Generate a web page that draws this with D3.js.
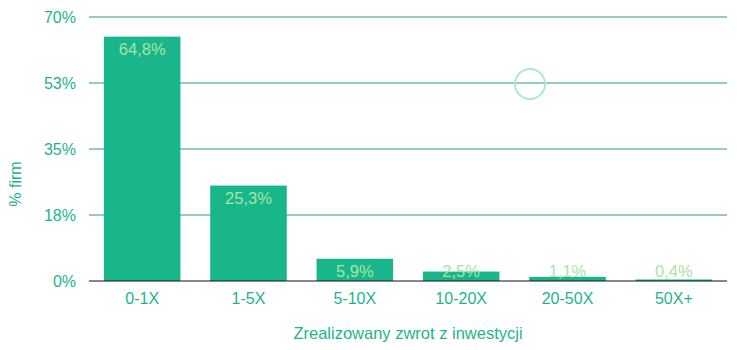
<!DOCTYPE html>
<html>
<head>
<meta charset="utf-8">
<script src="https://cdn.jsdelivr.net/npm/d3@7"></script>
<style>
  body { margin: 0; background: #fff; }
  text { font-family: "Liberation Sans", Arial, sans-serif; }
</style>
</head>
<body>
<div id="chart"></div>
<script>
// data
const categories = ["0-1X", "1-5X", "5-10X", "10-20X", "20-50X", "50X+"];
const values = [64.8, 25.3, 5.9, 2.5, 1.1, 0.4];
const valueLabels = ["64,8%", "25,3%", "5,9%", "2,5%", "1,1%", "0,4%"];
const yTicks = [0, 17.5, 35, 52.5, 70];
const yTickLabels = ["0%", "18%", "35%", "53%", "70%"];

const W = 737, H = 350;
const margin = {top: 17, right: 10, bottom: 69, left: 89};
const width = W - margin.left - margin.right;
const height = H - margin.top - margin.bottom;

const svg = d3.select("#chart").append("svg")
    .attr("width", W)
    .attr("height", H);

const g = svg.append("g")
    .attr("transform", `translate(${margin.left},${margin.top})`);

const x = d3.scaleBand()
    .domain(categories)
    .range([0, width])
    .paddingInner(0.28)
    .paddingOuter(0.14);

const y = d3.scaleLinear()
    .domain([0, 70])
    .range([height, 0]);

const teal = "#19b68c";
const textTeal = "#1db48c";

// gridlines
g.selectAll(".grid")
    .data(yTicks.slice(1))
    .enter()
    .append("line")
    .attr("class", "grid")
    .attr("x1", 0)
    .attr("x2", width)
    .attr("y1", d => y(d))
    .attr("y2", d => y(d))
    .style("stroke", "#2a9b7c")
    .style("stroke-width", 1);

// y tick labels
g.selectAll(".ytick")
    .data(yTicks)
    .enter()
    .append("text")
    .attr("class", "ytick")
    .attr("x", -13)
    .attr("y", d => y(d))
    .style("dominant-baseline", "central")
    .style("text-anchor", "end")
    .style("font-size", "16px")
    .style("fill", textTeal)
    .text((d, i) => yTickLabels[i]);

// bars
g.selectAll(".bar")
    .data(values)
    .enter()
    .append("rect")
    .attr("class", "bar")
    .attr("x", (d, i) => x(categories[i]))
    .attr("y", d => y(d))
    .attr("width", x.bandwidth())
    .attr("height", d => height - y(d))
    .style("fill", teal);

// baseline
g.append("line")
    .attr("x1", 0)
    .attr("x2", width)
    .attr("y1", height)
    .attr("y2", height)
    .style("stroke", "#111")
    .style("stroke-width", 1);

// value labels
g.selectAll(".val")
    .data(values)
    .enter()
    .append("text")
    .attr("class", "val")
    .attr("x", (d, i) => x(categories[i]) + x.bandwidth() / 2)
    .attr("y", d => Math.min(y(d) + 12, height - 10))
    .style("dominant-baseline", "central")
    .style("text-anchor", "middle")
    .style("font-size", "16.5px")
    .style("fill", "#a6e6a0")
    .text((d, i) => valueLabels[i]);

// x labels
g.selectAll(".xtick")
    .data(categories)
    .enter()
    .append("text")
    .attr("class", "xtick")
    .attr("x", d => x(d) + x.bandwidth() / 2)
    .attr("y", height + 17)
    .style("dominant-baseline", "central")
    .style("text-anchor", "middle")
    .style("font-size", "16px")
    .style("fill", textTeal)
    .text(d => d);

// axis titles
svg.append("text")
    .attr("x", margin.left + width / 2)
    .attr("y", 333)
    .style("dominant-baseline", "central")
    .style("text-anchor", "middle")
    .style("font-size", "16.5px")
    .style("fill", textTeal)
    .text("Zrealizowany zwrot z inwestycji");

svg.append("text")
    .attr("transform", "translate(15,184) rotate(-90)")
    .style("dominant-baseline", "central")
    .style("text-anchor", "middle")
    .style("font-size", "16px")
    .style("fill", textTeal)
    .text("% firm");

// hover cursor ring
svg.append("circle")
    .attr("cx", 530)
    .attr("cy", 84)
    .attr("r", 15)
    .style("fill", "none")
    .style("stroke", "#a8e8d6")
    .style("stroke-width", 2);
</script>
</body>
</html>
